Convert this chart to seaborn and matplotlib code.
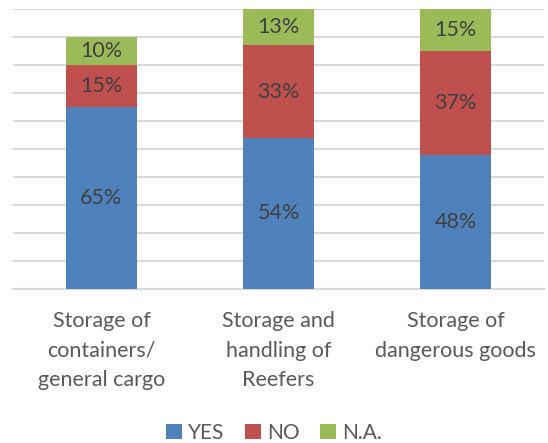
import matplotlib
matplotlib.use("Agg")
import matplotlib.pyplot as plt
from matplotlib.patches import Patch
import pandas as pd
import seaborn as sns

categories = [
    "Storage of\ncontainers/\ngeneral cargo",
    "Storage and\nhandling of\nReefers",
    "Storage of\ndangerous goods",
]
yes_vals = [0.65, 0.54, 0.48]
no_vals = [0.15, 0.33, 0.37]
na_vals = [0.10, 0.13, 0.15]
series_names = ["YES", "NO", "N.A."]
colors = ["#4F81BD", "#C0504D", "#9BBB59"]

sns.set_theme(style="white")
plt.rcParams["font.family"] = ["Lato", "DejaVu Sans"]

fig = plt.figure(figsize=(5.48, 4.43), dpi=100)
ax = fig.add_axes([0.0237, 0.3476, 0.969, 0.632])

df = pd.DataFrame({"cat": categories, "YES": yes_vals, "NO": no_vals, "N.A.": na_vals})

bottom = [0.0] * len(categories)
for name, col in zip(series_names, colors):
    sns.barplot(data=df, x="cat", y=name, color=col, width=0.4, bottom=bottom,
                ax=ax, saturation=1, linewidth=0, zorder=3)
    bottom = [b + v for b, v in zip(bottom, df[name])]

for cont in ax.containers:
    vals = [p.get_height() for p in cont.patches]
    ax.bar_label(cont, labels=[f"{round(v * 100):d}%" for v in vals],
                 label_type="center", color="#404040", fontsize=15.5)

ax.set_ylim(0, 1.0)
ax.set_xlim(-0.5, 2.5)
ax.set_yticks([i / 10 for i in range(11)])
ax.set_yticklabels([])
ax.tick_params(axis="y", length=0)
ax.grid(axis="y", color="#D9D9D9", linewidth=1.5, zorder=0)
ax.set_axisbelow(True)
for s in ["left", "right", "top"]:
    ax.spines[s].set_visible(False)
ax.spines["bottom"].set_color("#D9D9D9")
ax.spines["bottom"].set_linewidth(1.5)
ax.set_xlabel("")
ax.set_ylabel("")
ax.tick_params(axis="x", length=0, pad=16, labelsize=15.5, labelcolor="#595959")
for lbl in ax.get_xticklabels():
    lbl.set_linespacing(1.6)

handles = [Patch(facecolor=c, edgecolor="none", label=n) for n, c in zip(series_names, colors)]
fig.legend(handles=handles, loc="center", bbox_to_anchor=(0.5, 1 - 433 / 443), ncol=3,
           frameon=False, fontsize=15, handlelength=0.75, handleheight=0.75,
           handletextpad=0.3, columnspacing=1.0, labelcolor="#595959")

fig.savefig("out.png", dpi=100)
